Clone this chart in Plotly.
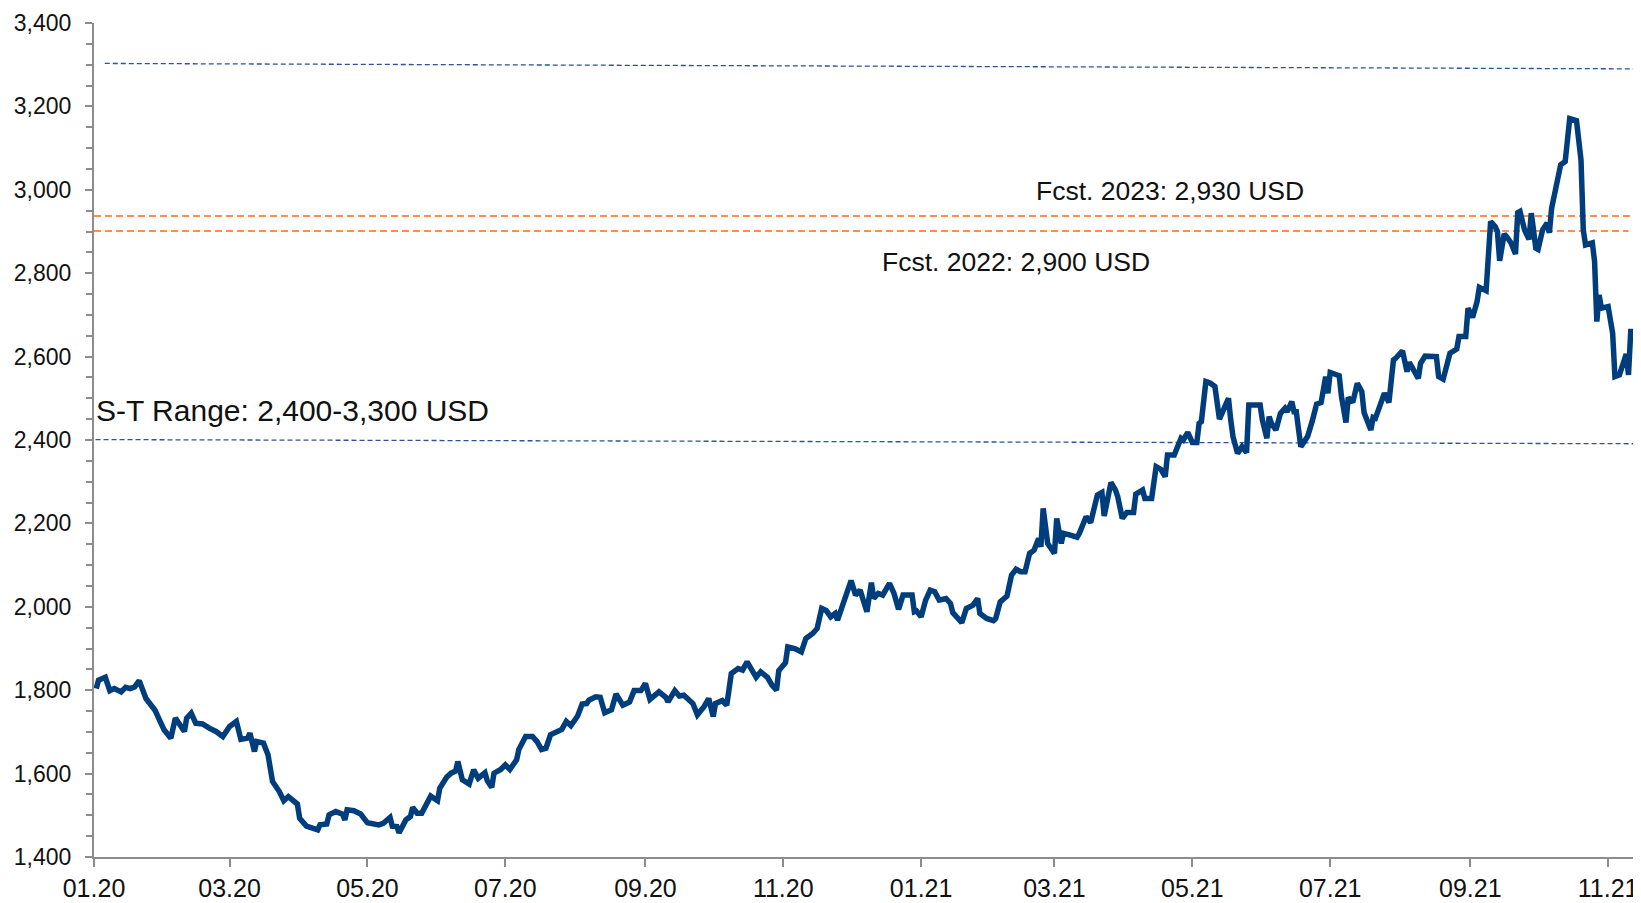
import plotly.graph_objects as go

# ---- Data ----
dates = [
    "2020-01-02", "2020-01-03", "2020-01-06", "2020-01-08", "2020-01-10", "2020-01-13", "2020-01-15",
    "2020-01-17", "2020-01-19", "2020-01-21", "2020-01-24", "2020-01-26", "2020-01-28", "2020-01-30",
    "2020-02-01", "2020-02-04", "2020-02-06", "2020-02-08", "2020-02-10", "2020-02-11", "2020-02-13",
    "2020-02-15", "2020-02-18", "2020-02-21", "2020-02-24", "2020-02-27",
    "2020-03-01", "2020-03-04", "2020-03-06", "2020-03-09", "2020-03-10", "2020-03-12", "2020-03-13",
    "2020-03-16", "2020-03-18", "2020-03-20", "2020-03-23", "2020-03-25", "2020-03-27", "2020-03-31",
    "2020-04-01", "2020-04-04", "2020-04-07", "2020-04-09", "2020-04-10", "2020-04-13", "2020-04-14",
    "2020-04-17", "2020-04-20", "2020-04-21", "2020-04-22", "2020-04-25", "2020-04-28",
    "2020-05-01", "2020-05-06", "2020-05-08", "2020-05-11", "2020-05-12", "2020-05-14", "2020-05-15",
    "2020-05-18", "2020-05-20", "2020-05-21", "2020-05-23", "2020-05-25", "2020-05-29",
    "2020-06-01", "2020-06-02", "2020-06-05", "2020-06-07", "2020-06-09", "2020-06-10", "2020-06-12",
    "2020-06-15", "2020-06-17", "2020-06-19", "2020-06-22", "2020-06-23", "2020-06-25", "2020-06-26",
    "2020-06-29",
    "2020-07-01", "2020-07-03", "2020-07-06", "2020-07-07", "2020-07-10", "2020-07-13", "2020-07-15",
    "2020-07-17", "2020-07-19", "2020-07-21", "2020-07-24", "2020-07-26", "2020-07-28", "2020-07-30",
    "2020-08-02", "2020-08-04", "2020-08-06", "2020-08-07", "2020-08-10", "2020-08-12", "2020-08-14",
    "2020-08-17", "2020-08-19", "2020-08-22", "2020-08-25", "2020-08-27", "2020-08-30",
    "2020-09-01", "2020-09-03", "2020-09-07", "2020-09-10", "2020-09-11", "2020-09-14", "2020-09-16",
    "2020-09-18", "2020-09-21", "2020-09-22", "2020-09-24", "2020-09-27", "2020-09-29",
    "2020-10-01", "2020-10-02", "2020-10-05", "2020-10-07", "2020-10-09", "2020-10-12", "2020-10-14",
    "2020-10-16", "2020-10-18", "2020-10-20", "2020-10-22", "2020-10-25", "2020-10-27", "2020-10-29",
    "2020-10-30",
    "2020-11-02", "2020-11-03", "2020-11-06", "2020-11-09", "2020-11-11", "2020-11-14", "2020-11-16",
    "2020-11-18", "2020-11-20", "2020-11-22", "2020-11-24", "2020-11-25", "2020-11-27",
    "2020-12-01", "2020-12-03", "2020-12-05", "2020-12-08", "2020-12-10", "2020-12-11", "2020-12-13",
    "2020-12-15", "2020-12-18", "2020-12-20", "2020-12-22", "2020-12-24", "2020-12-28", "2020-12-29",
    "2020-12-30",
    "2021-01-01", "2021-01-03", "2021-01-05", "2021-01-07", "2021-01-09", "2021-01-12", "2021-01-14",
    "2021-01-15", "2021-01-19", "2021-01-21", "2021-01-24", "2021-01-26", "2021-01-27", "2021-01-30",
    "2021-02-02", "2021-02-03", "2021-02-05", "2021-02-08", "2021-02-10", "2021-02-12", "2021-02-14",
    "2021-02-16", "2021-02-18", "2021-02-20", "2021-02-22", "2021-02-23", "2021-02-24", "2021-02-26",
    "2021-03-01", "2021-03-02", "2021-03-04", "2021-03-05", "2021-03-08", "2021-03-11", "2021-03-12",
    "2021-03-15", "2021-03-17", "2021-03-18", "2021-03-20", "2021-03-22", "2021-03-23", "2021-03-24",
    "2021-03-26", "2021-03-28", "2021-03-29", "2021-03-31",
    "2021-04-02", "2021-04-05", "2021-04-06", "2021-04-09", "2021-04-10", "2021-04-13", "2021-04-15",
    "2021-04-17", "2021-04-19", "2021-04-20", "2021-04-23", "2021-04-26", "2021-04-27", "2021-04-29",
    "2021-05-01", "2021-05-03", "2021-05-04", "2021-05-05", "2021-05-07", "2021-05-09", "2021-05-11",
    "2021-05-13", "2021-05-15", "2021-05-17", "2021-05-18", "2021-05-19", "2021-05-21", "2021-05-23",
    "2021-05-25", "2021-05-26", "2021-05-29", "2021-05-31",
    "2021-06-01", "2021-06-03", "2021-06-04", "2021-06-05", "2021-06-07", "2021-06-09", "2021-06-11",
    "2021-06-12", "2021-06-14", "2021-06-15", "2021-06-16", "2021-06-18", "2021-06-19", "2021-06-21",
    "2021-06-23", "2021-06-25", "2021-06-27", "2021-06-29", "2021-06-30",
    "2021-07-01", "2021-07-05", "2021-07-06", "2021-07-08", "2021-07-09", "2021-07-11", "2021-07-13",
    "2021-07-15", "2021-07-16", "2021-07-19", "2021-07-20", "2021-07-21", "2021-07-23", "2021-07-25",
    "2021-07-27", "2021-07-29", "2021-07-30",
    "2021-08-02", "2021-08-04", "2021-08-05", "2021-08-09", "2021-08-10", "2021-08-12", "2021-08-14",
    "2021-08-17", "2021-08-18", "2021-08-20", "2021-08-23", "2021-08-26", "2021-08-27", "2021-08-30",
    "2021-08-31",
    "2021-09-02", "2021-09-04", "2021-09-05", "2021-09-08", "2021-09-09", "2021-09-10", "2021-09-12",
    "2021-09-13", "2021-09-14", "2021-09-16", "2021-09-17", "2021-09-19", "2021-09-21", "2021-09-22",
    "2021-09-23", "2021-09-25", "2021-09-27", "2021-09-28", "2021-09-30",
    "2021-10-01", "2021-10-03", "2021-10-05", "2021-10-06", "2021-10-07", "2021-10-09", "2021-10-11",
    "2021-10-13", "2021-10-15", "2021-10-18", "2021-10-20", "2021-10-21", "2021-10-22", "2021-10-25",
    "2021-10-26", "2021-10-27", "2021-10-28", "2021-10-29",
    "2021-11-01", "2021-11-03", "2021-11-04", "2021-11-06", "2021-11-09", "2021-11-10", "2021-11-11",
    "2021-11-12",
]

prices = [
    1804, 1824, 1831, 1799, 1804, 1796, 1807,
    1804, 1808, 1823, 1780, 1768, 1752, 1728,
    1705, 1685, 1733, 1717, 1701, 1733, 1745,
    1721, 1719, 1709, 1701, 1689,
    1713, 1725, 1682, 1685, 1697, 1653, 1677,
    1673, 1645, 1581, 1557, 1535, 1545, 1527,
    1493, 1474, 1469, 1465, 1477, 1479, 1501,
    1509, 1503, 1489, 1513, 1511, 1503,
    1482, 1477, 1481, 1495, 1474, 1473, 1458,
    1489, 1497, 1519, 1505, 1505, 1546,
    1535, 1565, 1591, 1601, 1606, 1629, 1585,
    1575, 1609, 1589, 1602, 1583, 1567, 1601,
    1610,
    1621, 1610, 1633, 1658, 1689, 1689, 1677,
    1658, 1661, 1693, 1701, 1706, 1725, 1715,
    1738, 1767, 1768, 1776, 1784, 1783, 1746,
    1753, 1791, 1764, 1772, 1799, 1799,
    1816, 1778, 1796, 1783, 1772, 1799, 1786,
    1788, 1776, 1768, 1741, 1761, 1780,
    1737, 1768, 1775, 1764, 1840, 1852, 1848,
    1868, 1852, 1831, 1844, 1831, 1812, 1800,
    1847,
    1866, 1904, 1900, 1892, 1924, 1936, 1948,
    1996, 1991, 1976, 1984, 1968, 2000,
    2063, 2028, 2040, 1988, 2058, 2020, 2032,
    2028, 2056, 2032, 1994, 2028, 2028, 1988,
    1990,
    1976, 2016, 2040, 2036, 2016, 2020, 2008,
    1986, 1962, 1996, 2004, 2020, 1984, 1972,
    1967, 1972, 2012, 2026, 2076, 2090, 2084,
    2084, 2128, 2136, 2164, 2144, 2236, 2152,
    2128, 2212, 2152, 2176, 2172, 2167, 2176,
    2216, 2202, 2224, 2268, 2274, 2218, 2244,
    2298, 2280, 2264, 2212,
    2226, 2226, 2270, 2280, 2260, 2260, 2336,
    2330, 2312, 2364, 2364, 2404, 2400, 2418,
    2394, 2394, 2440, 2444, 2540, 2536, 2528,
    2450, 2476, 2500, 2448, 2408, 2368, 2384,
    2370, 2484, 2484, 2484,
    2448, 2404, 2456, 2440, 2424, 2464, 2476,
    2468, 2492, 2468, 2468, 2384, 2392, 2408,
    2444, 2486, 2490, 2552, 2512,
    2562, 2554, 2504, 2442, 2502, 2490, 2536,
    2516, 2466, 2424, 2454, 2452, 2484, 2512,
    2490, 2592, 2596,
    2614, 2564, 2586, 2548, 2584, 2601, 2601,
    2600, 2552, 2546, 2608, 2618, 2648, 2648,
    2716,
    2694, 2732, 2766, 2758, 2828, 2924, 2912,
    2900, 2830, 2894, 2888, 2873, 2846, 2945,
    2948, 2904, 2881, 2944, 2860,
    2857, 2904, 2920, 2897, 2956, 3008, 3060,
    3068, 3171, 3166, 3071, 2904, 2868, 2873,
    2828, 2684, 2748, 2716,
    2720, 2656, 2552, 2556, 2606, 2556, 2660,
    2660,
]

# Reference levels (start / end values as drawn)
range_high = [3303, 3290]      # S-T range upper bound (3,300 USD)
range_low = [2401, 2391]       # S-T range lower bound (2,400 USD)
fcst_2023 = 2937               # Fcst. 2023: 2,930 USD
fcst_2022 = 2901               # Fcst. 2022: 2,900 USD

label_2023 = "Fcst. 2023: 2,930 USD"
label_2022 = "Fcst. 2022: 2,900 USD"
label_range = "S-T Range: 2,400-3,300 USD"

x_range = ["2020-01-01", "2021-11-12"]
y_range = [1400, 3400]

FONT = "Liberation Sans, Arial, sans-serif"
LINE_COLOR = "#003d7c"
BLUE_DASH = "#2a5596"
ORANGE = "#ff6a13"
AXIS_GRAY = "#8c8c8c"

fig = go.Figure()

fig.add_trace(go.Scatter(
    x=dates, y=prices, mode="lines",
    line=dict(color=LINE_COLOR, width=5.5, shape="linear"),
    showlegend=False, hoverinfo="skip", cliponaxis=True,
))

# Reference lines
fig.add_shape(type="line", xref="paper", yref="y", x0=0.007, x1=1.004,
              y0=range_high[0], y1=range_high[1],
              line=dict(color=BLUE_DASH, width=1.3, dash="5px,3px"), layer="below")
fig.add_shape(type="line", xref="paper", yref="y", x0=0.001, x1=1.0,
              y0=range_low[0], y1=range_low[1],
              line=dict(color=BLUE_DASH, width=1.3, dash="5px,3px"), layer="below")
fig.add_shape(type="line", xref="paper", yref="y", x0=0.0, x1=1.0,
              y0=fcst_2023, y1=fcst_2023,
              line=dict(color=ORANGE, width=1.5, dash="7px,4px"), layer="below")
fig.add_shape(type="line", xref="paper", yref="y", x0=0.0, x1=0.997,
              y0=fcst_2022, y1=fcst_2022,
              line=dict(color=ORANGE, width=1.5, dash="7px,4px"), layer="below")

ann_font = dict(family=FONT, size=26.5, color="#111111")
fig.add_annotation(x="2021-02-20", y=2996, xref="x", yref="y", text=label_2023,
                   showarrow=False, xanchor="left", yanchor="middle", font=ann_font)
fig.add_annotation(x="2020-12-14", y=2828, xref="x", yref="y", text=label_2022,
                   showarrow=False, xanchor="left", yanchor="middle", font=ann_font)
fig.add_annotation(x="2020-01-01", y=2470, xref="x", yref="y", text=label_range,
                   showarrow=False, xanchor="left", yanchor="middle",
                   font=dict(family=FONT, size=30, color="#111111"))

# The page body has an 8px margin, so the figure is sized to fit inside it.
fig.update_layout(
    width=1633, height=895,
    margin=dict(l=86, r=8, t=15, b=46, pad=0, autoexpand=False),
    paper_bgcolor="white", plot_bgcolor="white",
    font=dict(family=FONT, color="#111111"),
    showlegend=False,
)

fig.update_xaxes(
    type="date", range=x_range, automargin=False,
    tickformat="%m.%y", dtick="M2", tick0="2020-01-01",
    ticks="outside", ticklen=8, tickwidth=2, tickcolor=AXIS_GRAY,
    showline=True, linewidth=2, linecolor=AXIS_GRAY,
    showgrid=False, zeroline=False,
    tickfont=dict(family=FONT, size=25, color="#111111"),
    ticklabelstandoff=0,
)

fig.update_yaxes(
    range=y_range, tickvals=list(range(1400, 3401, 200)), automargin=False,
    tickformat=",d",
    ticks="outside", ticklen=7, tickwidth=2, tickcolor=AXIS_GRAY,
    minor=dict(dtick=50, tick0=1400, ticks="outside", ticklen=6, tickwidth=2, tickcolor=AXIS_GRAY),
    showline=True, linewidth=2, linecolor=AXIS_GRAY,
    showgrid=False, zeroline=False,
    tickfont=dict(family=FONT, size=23, color="#111111"),
    ticklabelstandoff=9,
)

fig.write_html("out.html")
